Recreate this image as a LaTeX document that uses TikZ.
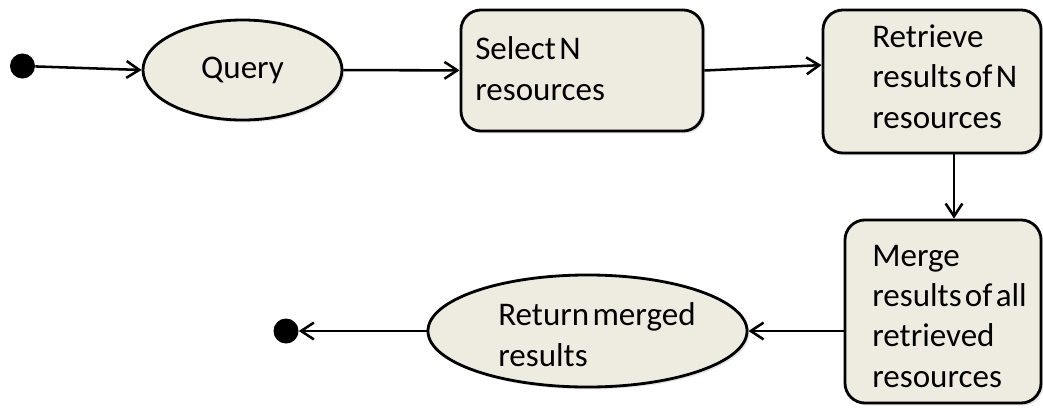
\documentclass[tikz,border=0pt]{standalone}
\usepackage{fontspec}
\setmainfont{Carlito}
\usetikzlibrary{arrows.meta,shapes.geometric,shadows}
\definecolor{boxfill}{HTML}{EEECE1}
\newcommand{\diagfont}{\fontsize{23.5}{28.5}\selectfont\spaceskip=0.1em\relax}

\begin{document}
\begin{tikzpicture}[x=0.025cm, y=-0.025cm,
      box/.style={draw, line width=2pt, fill=boxfill, rounded corners=0.5cm, inner sep=0pt,
        drop shadow={opacity=0.2, shadow xshift=0.06cm, shadow yshift=-0.06cm}},
      oval/.style={ellipse, draw, line width=2pt, fill=boxfill, inner sep=0pt, font=\diagfont,
        drop shadow={opacity=0.2, shadow xshift=0.06cm, shadow yshift=-0.06cm}},
      dot/.style={circle, fill, inner sep=0pt, minimum size=0.625cm},
      txt/.style={anchor=base west, align=left, inner sep=0pt, font=\diagfont},
      arr/.style={line width=1.8pt, -{Straight Barb[length=3.2mm, width=4.2mm]}}
      ]
      \useasboundingbox (0,0) rectangle (1043,408);
      % top row (text nodes sit on the baseline of their last line)
      \node[dot] (start) at (22.5,66) {};
      \node[oval, minimum width=4.975cm, minimum height=2.5cm] (query) at (242.5,70) {Query};
      \node[box, minimum width=6.05cm, minimum height=3.025cm] (select) at (582,70.5) {};
      \node[txt] (selectt) at (475,100) {Select N\\resources};
      \node[box, minimum width=5.45cm, minimum height=3.575cm] (retrieve) at (932,81.5) {};
      \node[txt] (retrievet) at (872,128) {Retrieve\\results of N\\resources};
      % bottom row
      \node[box, minimum width=4.9cm, minimum height=4.575cm] (merge) at (943,311.5) {};
      \node[txt] (merget) at (872,387) {Merge\\results of all\\retrieved\\resources};
      \node[oval, minimum width=7.975cm, minimum height=2.8cm] (ret) at (587.5,331) {};
      \node[txt] (rett) at (498,366) {Return merged\\results};
      \node[dot] (stop) at (286,331) {};

      \draw[arr] (start) -- (query.west);
      \draw[arr] (query) -- (select);
      \draw[arr] (select.east) -- ([yshift=0.41cm]retrieve.west);
      \draw[arr] ([xshift=0.55cm]retrieve.south) -- ([xshift=0.55cm]retrieve.south |- merge.north);
      \draw[arr] (merge.west |- ret.east) -- (ret.east);
      \draw[arr] (ret.west) -- (stop);
    \end{tikzpicture}
\end{document}
